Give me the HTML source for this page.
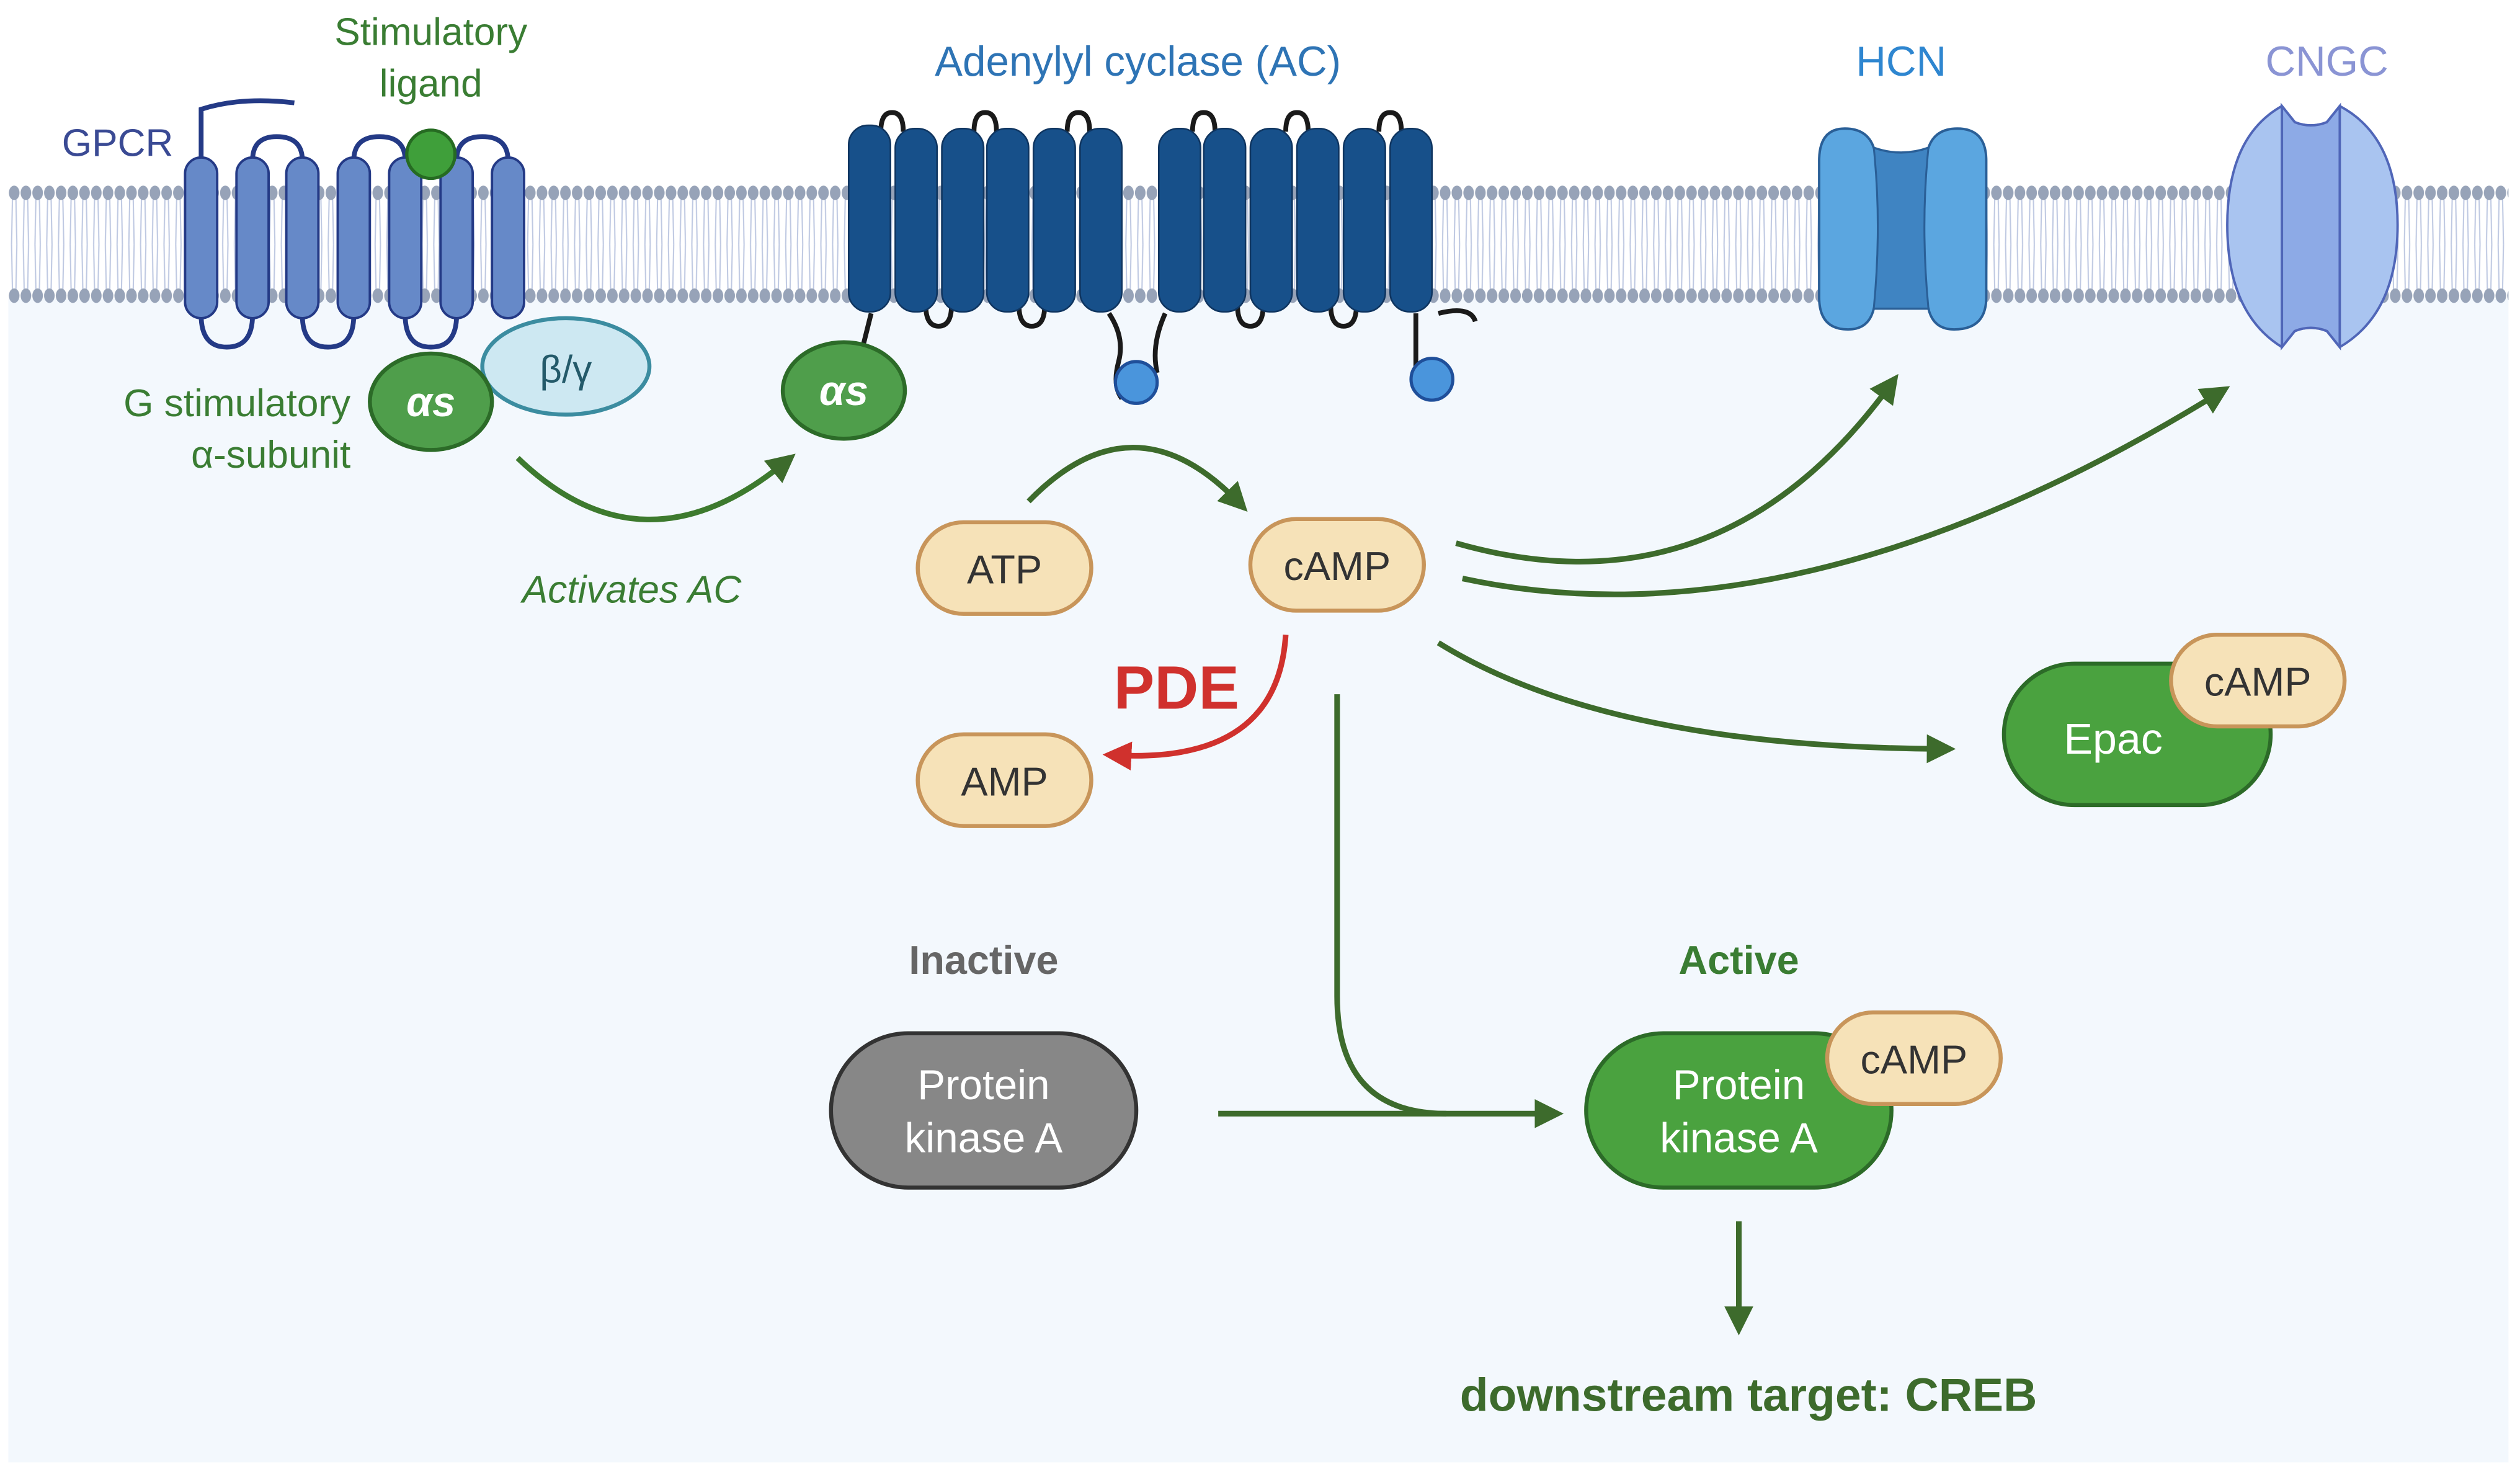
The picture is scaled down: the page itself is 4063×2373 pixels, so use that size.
<!DOCTYPE html>
<html><head><meta charset="utf-8"><style>
html,body{margin:0;padding:0;background:#fff;}
svg{display:block;}
text{font-family:"Liberation Sans",sans-serif;}
</style></head><body>
<svg width="4063" height="2373" viewBox="0 0 1568 916" xmlns="http://www.w3.org/2000/svg">
<defs>
<pattern id="lip" x="5" y="0" width="7.3" height="916" patternUnits="userSpaceOnUse">
<line x1="2.6" y1="122" x2="2" y2="152" stroke="#bfc9e2" stroke-width="0.8"/>
<line x1="4.7" y1="122" x2="5.3" y2="152" stroke="#bfc9e2" stroke-width="0.8"/>
<line x1="2" y1="152" x2="2.6" y2="182" stroke="#bfc9e2" stroke-width="0.8"/>
<line x1="5.3" y1="152" x2="4.7" y2="182" stroke="#bfc9e2" stroke-width="0.8"/>
<ellipse cx="3.65" cy="120" rx="3.3" ry="4.5" fill="#97a3b8"/>
<ellipse cx="3.65" cy="184" rx="3.3" ry="4.5" fill="#97a3b8"/>
</pattern>
<marker id="ag2" markerWidth="18" markerHeight="18" refX="9" refY="9" orient="auto" markerUnits="userSpaceOnUse" viewBox="0 0 18 18"><path d="M0,0 L18,9 L0,18 Z" fill="#3d6b2c"/></marker>
<marker id="ar" markerWidth="18" markerHeight="18" refX="9" refY="9" orient="auto" markerUnits="userSpaceOnUse" viewBox="0 0 18 18"><path d="M0,0 L18,9 L0,18 Z" fill="#d0312d"/></marker>
</defs>
<rect x="5" y="186" width="1556" height="724" fill="#f3f8fd"/>
<rect x="5" y="112" width="1556" height="80" fill="url(#lip)"/>

<!-- GPCR -->
<g stroke="#243a86" stroke-width="3" fill="none">
<path d="M125,100 V68 Q150,60 183,64"/>
<path d="M157,100 Q157,85 172,85 Q188,85 188,100"/>
<path d="M220,100 Q220,85 236,85 Q252,85 252,100"/>
<path d="M284,100 Q284,85 300,85 Q316,85 316,100"/>
<path d="M125,196 Q125,216 141,216 Q157,216 157,196"/>
<path d="M188,196 Q188,216 204,216 Q220,216 220,196"/>
<path d="M252,196 Q252,216 268,216 Q284,216 284,196"/>
</g>
<g fill="#6689c8" stroke="#243a86" stroke-width="1.5">
<rect x="115" y="98" width="20" height="100" rx="10"/>
<rect x="147" y="98" width="20" height="100" rx="10"/>
<rect x="178" y="98" width="20" height="100" rx="10"/>
<rect x="210" y="98" width="20" height="100" rx="10"/>
<rect x="242" y="98" width="20" height="100" rx="10"/>
<rect x="274" y="98" width="20" height="100" rx="10"/>
<rect x="306" y="98" width="20" height="100" rx="10"/>
</g>
<ellipse cx="268" cy="96" rx="15" ry="15" fill="#3f9f3a" stroke="#266b22" stroke-width="2"/>
<ellipse cx="352" cy="228" rx="52" ry="30" fill="#cde8f2" stroke="#3b8ca0" stroke-width="2.5"/>
<ellipse cx="268" cy="250" rx="38" ry="30" fill="#4f9e4b" stroke="#2c6b28" stroke-width="2.5"/>
<text x="268" y="259" font-size="26" font-weight="bold" fill="#fff" text-anchor="middle" font-style="italic">αs</text>
<text x="352" y="238" font-size="24" fill="#245a6a" text-anchor="middle">β/γ</text>
<text x="73" y="97" font-size="24" fill="#3a4a94" text-anchor="middle">GPCR</text>
<text x="268" y="28" font-size="24" fill="#3a7d33" text-anchor="middle">Stimulatory</text>
<text x="268" y="60" font-size="24" fill="#3a7d33" text-anchor="middle">ligand</text>
<text x="218" y="259" font-size="24" fill="#3a7d33" text-anchor="end">G stimulatory</text>
<text x="218" y="291" font-size="24" fill="#3a7d33" text-anchor="end">α-subunit</text>
<path d="M322,285 Q400,360 488,288" stroke="#3d7a2e" stroke-width="3.5" fill="none" marker-end="url(#ag2)"/>
<text x="393" y="375" font-size="24" font-style="italic" fill="#3a7d33" text-anchor="middle">Activates AC</text>

<!-- AC -->
<g stroke="#1a1a1a" stroke-width="3" fill="none">
<path d="M542,195 L537,215"/>
<path d="M548,82 Q548,70 555,70 Q562,70 562,82"/>
<path d="M606,82 Q606,70 613,70 Q620,70 620,82"/>
<path d="M664,82 Q664,70 671,70 Q678,70 678,82"/>
<path d="M742,82 Q742,70 749,70 Q756,70 756,82"/>
<path d="M800,82 Q800,70 807,70 Q814,70 814,82"/>
<path d="M858,82 Q858,70 865,70 Q872,70 872,82"/>
<path d="M576,190 Q576,203 584,203 Q592,203 592,190"/>
<path d="M634,190 Q634,203 642,203 Q650,203 650,190"/>
<path d="M770,190 Q770,203 778,203 Q786,203 786,190"/>
<path d="M828,190 Q828,203 836,203 Q844,203 844,190"/>
<path d="M690,195 Q700,210 696,225 Q692,240 698,248"/>
<path d="M725,195 Q716,215 720,232"/>
<path d="M881,195 V240"/>
<path d="M895,195 Q915,190 918,200"/>
</g>
<g fill="#17508a" stroke="#0f3560" stroke-width="1">
<rect x="528" y="78" width="26" height="116" rx="12"/>
<rect x="557" y="80" width="26" height="114" rx="12"/>
<rect x="586" y="80" width="26" height="114" rx="12"/>
<rect x="614" y="80" width="26" height="114" rx="12"/>
<rect x="643" y="80" width="26" height="114" rx="12"/>
<rect x="672" y="80" width="26" height="114" rx="12"/>
<rect x="721" y="80" width="26" height="114" rx="12"/>
<rect x="749" y="80" width="26" height="114" rx="12"/>
<rect x="778" y="80" width="26" height="114" rx="12"/>
<rect x="807" y="80" width="26" height="114" rx="12"/>
<rect x="836" y="80" width="26" height="114" rx="12"/>
<rect x="865" y="80" width="26" height="114" rx="12"/>
</g>
<circle cx="707" cy="238" r="13" fill="#4a95dc" stroke="#1f4f9a" stroke-width="2"/>
<circle cx="891" cy="236" r="13" fill="#4a95dc" stroke="#1f4f9a" stroke-width="2"/>
<ellipse cx="525" cy="243" rx="38" ry="30" fill="#4f9e4b" stroke="#2c6b28" stroke-width="2.5"/>
<text x="525" y="252" font-size="26" font-weight="bold" fill="#fff" text-anchor="middle" font-style="italic">αs</text>
<text x="708" y="47" font-size="26" fill="#2e74b5" text-anchor="middle">Adenylyl cyclase (AC)</text>

<!-- HCN -->
<path d="M1148,80 Q1132,80 1132,100 V185 Q1132,205 1150,205 Q1163,205 1166,192 H1200 Q1203,205 1216,205 Q1236,205 1236,185 V100 Q1236,80 1218,80 Q1204,80 1200,92 Q1183,98 1166,92 Q1162,80 1148,80 Z" fill="#5ba6e0" stroke="#2a5f97" stroke-width="1.5"/>
<path d="M1166,92 Q1183,98 1200,92 Q1195,140 1200,192 H1166 Q1171,140 1166,92 Z" fill="#3f84c2" stroke="#2a5f97" stroke-width="1.2"/>
<text x="1183" y="47" font-size="26" fill="#2e86d0" text-anchor="middle">HCN</text>

<!-- CNGC -->
<path d="M1420,66 Q1386,85 1386,140 Q1386,195 1420,216 L1428,206 Q1438,202 1448,206 L1456,216 Q1492,195 1492,140 Q1492,85 1456,66 L1448,76 Q1438,80 1428,76 Z" fill="#a9c4f0" stroke="#5066b8" stroke-width="1.5"/>
<path d="M1420,66 L1428,76 Q1438,80 1448,76 L1456,66 V216 L1448,206 Q1438,202 1428,206 L1420,216 Z" fill="#8daae6" stroke="#5066b8" stroke-width="1.5"/>
<text x="1448" y="47" font-size="26" fill="#8a94d4" text-anchor="middle">CNGC</text>

<!-- ATP / cAMP / AMP -->
<g fill="#f6e2b8" stroke="#c8955a" stroke-width="2.5">
<rect x="571" y="325" width="108" height="57" rx="28.5"/>
<rect x="778" y="323" width="108" height="57" rx="28.5"/>
<rect x="571" y="457" width="108" height="57" rx="28.5"/>
</g>
<text x="625" y="363" font-size="25" fill="#333" text-anchor="middle">ATP</text>
<text x="832" y="361" font-size="25" fill="#333" text-anchor="middle">cAMP</text>
<text x="625" y="495" font-size="25" fill="#333" text-anchor="middle">AMP</text>
<path d="M640,312 Q705,245 770,312" stroke="#3d6b2c" stroke-width="3.5" fill="none" marker-end="url(#ag2)"/>
<text x="732" y="441" font-size="38" font-weight="bold" fill="#d0312d" text-anchor="middle">PDE</text>
<path d="M800,395 Q795,475 695,470" stroke="#d0312d" stroke-width="3.5" fill="none" marker-end="url(#ar)"/>

<!-- cAMP arrows -->
<g stroke="#3d6b2c" stroke-width="3.5" fill="none">
<path d="M906,338 Q1070,385 1176,240" marker-end="url(#ag2)"/>
<path d="M910,360 Q1120,405 1380,245" marker-end="url(#ag2)"/>
<path d="M895,400 Q1000,465 1208,466" marker-end="url(#ag2)"/>
<path d="M832,432 V620 Q832,693 900,693"/>
<path d="M758,693 H964" marker-end="url(#ag2)"/>
<path d="M1082,760 V822" marker-end="url(#ag2)"/>
</g>

<!-- Epac -->
<rect x="1247" y="413" width="166" height="88" rx="44" fill="#4aa23f" stroke="#2c6b28" stroke-width="2.5"/>
<text x="1315" y="469" font-size="27" fill="#fff" text-anchor="middle">Epac</text>
<rect x="1351" y="395" width="108" height="57" rx="28.5" fill="#f6e2b8" stroke="#c8955a" stroke-width="2.5"/>
<text x="1405" y="433" font-size="25" fill="#333" text-anchor="middle">cAMP</text>

<!-- PKA -->
<text x="612" y="606" font-size="25" font-weight="bold" fill="#666" text-anchor="middle">Inactive</text>
<text x="1082" y="606" font-size="25" font-weight="bold" fill="#3a7d33" text-anchor="middle">Active</text>
<rect x="517" y="643" width="190" height="96" rx="48" fill="#878787" stroke="#333" stroke-width="2.5"/>
<text x="612" y="684" font-size="26" fill="#fff" text-anchor="middle">Protein</text>
<text x="612" y="717" font-size="26" fill="#fff" text-anchor="middle">kinase A</text>
<rect x="987" y="643" width="190" height="96" rx="48" fill="#4aa23f" stroke="#2c6b28" stroke-width="2.5"/>
<text x="1082" y="684" font-size="26" fill="#fff" text-anchor="middle">Protein</text>
<text x="1082" y="717" font-size="26" fill="#fff" text-anchor="middle">kinase A</text>
<rect x="1137" y="630" width="108" height="57" rx="28.5" fill="#f6e2b8" stroke="#c8955a" stroke-width="2.5"/>
<text x="1191" y="668" font-size="25" fill="#333" text-anchor="middle">cAMP</text>
<text x="1088" y="878" font-size="29" font-weight="bold" fill="#3d6b2c" text-anchor="middle">downstream target: CREB</text>
</svg>
</body></html>
